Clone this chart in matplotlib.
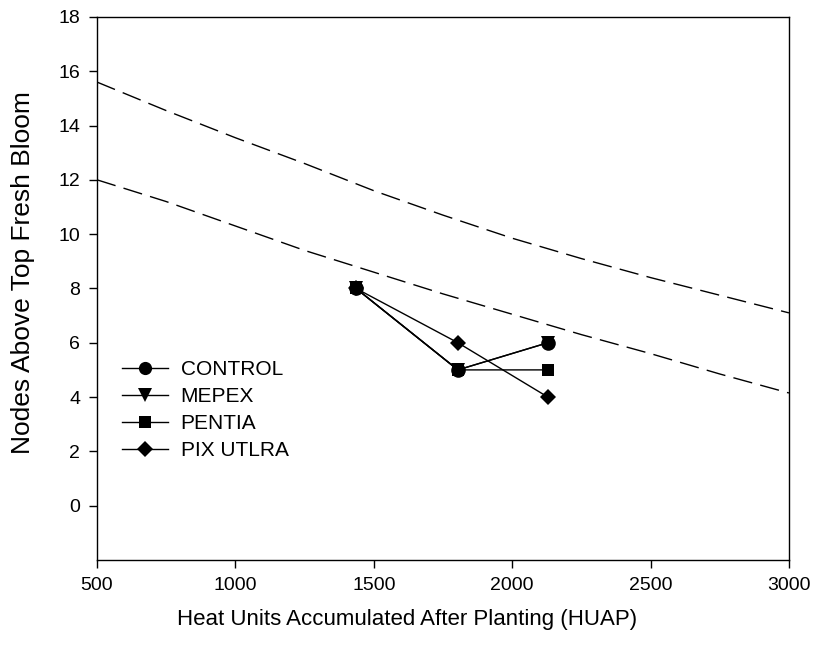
import matplotlib
matplotlib.use("Agg")
import matplotlib.pyplot as plt
from matplotlib.lines import Line2D

plt.rcParams['font.family'] = ['Liberation Sans', 'DejaVu Sans']

# sampling dates (HUAP)
huap = [1436, 1804, 2129]

# nodes above top fresh bloom per treatment
control = [8, 5, 6]
mepex = [8, 5, 6]
pentia = [8, 5, 5]
pix_ultra = [8, 6, 4]

# dashed reference curves
ref_x = [500, 750, 1000, 1250, 1500, 1750, 2000, 2250, 2500, 2750, 3000]
ref_upper = [15.6, 14.55, 13.55, 12.6, 11.6, 10.7, 9.85, 9.1, 8.4, 7.75, 7.1]
ref_lower = [12.0, 11.2, 10.3, 9.4, 8.6, 7.8, 7.05, 6.3, 5.6, 4.85, 4.15]

fig = plt.figure(figsize=(8.15, 6.5), dpi=100)
ax = fig.add_axes([0.119, 0.1385, 0.849, 0.8355])

dash = dict(color='black', lw=1.0, dashes=(14, 6))
ax.plot(ref_x, ref_upper, **dash)
ax.plot(ref_x, ref_lower, **dash)

series = [
    ("MEPEX", mepex, 'v', 10),
    ("PENTIA", pentia, 's', 9),
    ("PIX UTLRA", pix_ultra, 'D', 8.5),
    ("CONTROL", control, 'o', 10.5),
]
for name, vals, m, ms in series:
    ax.plot(huap, vals, color='black', lw=1.0, marker=m,
            markersize=ms, markeredgewidth=0)

ax.set_xlim(500, 3000)
ax.set_ylim(-2, 18)
ax.set_xticks([500, 1000, 1500, 2000, 2500, 3000])
ax.set_yticks(range(0, 19, 2))
ax.tick_params(direction='out', length=6, width=1, labelsize=14, pad=6,
               top=False, right=False)
for s in ax.spines.values():
    s.set_linewidth(1.0)

# labels are centred on the page rather than on the axes
ax.set_xlabel("Heat Units Accumulated After Planting (HUAP)", fontsize=16)
ax.set_ylabel("Nodes Above Top Fresh Bloom", fontsize=19)
ax.xaxis.set_label_coords(0.448, -0.09)
ax.yaxis.set_label_coords(-0.09, 0.53)

handles = [
    Line2D([], [], color='black', lw=1, marker='o', markersize=9.5, markeredgewidth=0),
    Line2D([], [], color='black', lw=1, marker='v', markersize=9.5, markeredgewidth=0),
    Line2D([], [], color='black', lw=1, marker='s', markersize=8.5, markeredgewidth=0),
    Line2D([], [], color='black', lw=1, marker='D', markersize=8, markeredgewidth=0),
]
labels = ["CONTROL", "MEPEX", "PENTIA", "PIX UTLRA"]
ax.legend(handles, labels, loc='upper left', bbox_to_anchor=(0.024, 0.383),
          frameon=False, fontsize=15, handlelength=2.2, handletextpad=0.62,
          labelspacing=0.38, borderaxespad=0)

fig.savefig("out.png", dpi=100)
